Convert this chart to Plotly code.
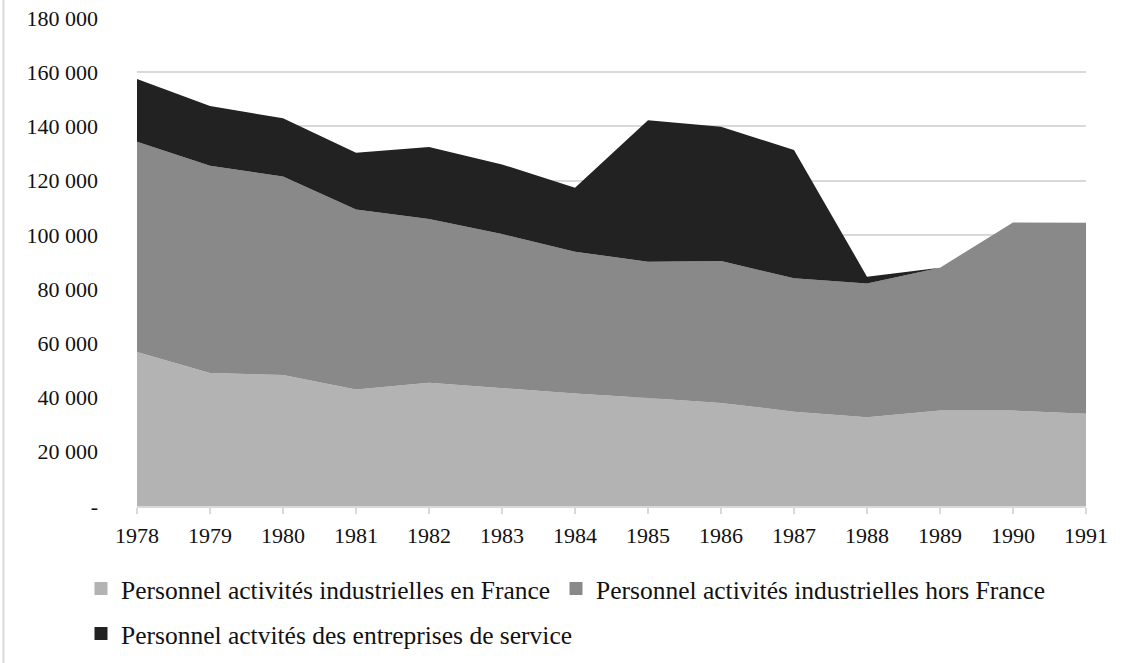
import plotly.graph_objects as go

years = [1978, 1979, 1980, 1981, 1982, 1983, 1984, 1985, 1986, 1987, 1988, 1989, 1990, 1991]
france = [56800, 49100, 48300, 43000, 45500, 43500, 41500, 39800, 38000, 34800, 32700, 35200, 35200, 34000]
hors_france = [77600, 76400, 73200, 66400, 60400, 56800, 52300, 50300, 52400, 49200, 49400, 52700, 69400, 70500]
service = [23100, 22000, 21500, 20900, 26500, 25700, 23600, 52200, 49500, 47300, 2500, 0, 0, 0]

series_names = [
    "Personnel activités industrielles en France",
    "Personnel activités industrielles hors France",
    "Personnel actvités des entreprises de service",
]
series_values = [france, hors_france, service]
colors = ["#b3b3b3", "#898989", "#222222"]
legend_ids = ["legend", "legend2", "legend3"]

y_tickvals = [0, 20000, 40000, 60000, 80000, 100000, 120000, 140000, 160000, 180000]
y_ticktext = ["-", "20 000", "40 000", "60 000", "80 000", "100 000", "120 000", "140 000", "160 000", "180 000"]

FONT = "Liberation Serif"
TXT = "#111111"

fig = go.Figure()
for name, vals, col in zip(series_names, series_values, colors):
    fig.add_trace(go.Scatter(
        x=years, y=vals, name=name, stackgroup="one", mode="lines",
        line=dict(width=0, color=col), fillcolor=col, showlegend=False,
        hoverinfo="x+y+name",
    ))
for name, col, lg in zip(series_names, colors, legend_ids):
    fig.add_trace(go.Scatter(
        x=[None], y=[None], name=name, mode="markers", legend=lg,
        marker=dict(symbol="square", size=13, color=col), showlegend=True,
    ))

legend_common = dict(
    orientation="h", xref="container", yref="container",
    xanchor="left", yanchor="middle", traceorder="normal",
    itemwidth=30, font=dict(family=FONT, size=25.5, color=TXT),
    bgcolor="rgba(0,0,0,0)",
)

fig.update_layout(
    width=1129, height=663,
    margin=dict(l=137, r=43, t=18, b=157, autoexpand=False),
    paper_bgcolor="white", plot_bgcolor="white",
    font=dict(family=FONT, size=22, color=TXT),
    legend=dict(x=81 / 1129, y=1 - 589 / 663, **legend_common),
    legend2=dict(x=556 / 1129, y=1 - 589 / 663, **legend_common),
    legend3=dict(x=81 / 1129, y=1 - 634 / 663, **legend_common),
    xaxis=dict(
        range=[1978, 1991], tickmode="array", tickvals=years,
        ticktext=[str(y) for y in years],
        showgrid=False, showline=True, linecolor="#d9d9d9", linewidth=1.5,
        ticks="outside", ticklen=6, tickcolor="#d9d9d9", tickwidth=1.5,
        zeroline=False, fixedrange=True, ticklabelstandoff=3,
        tickfont=dict(family=FONT, size=22, color=TXT),
    ),
    yaxis=dict(
        range=[0, 180000], tickmode="array", tickvals=y_tickvals, ticktext=y_ticktext,
        showgrid=True, gridcolor="#d9d9d9", gridwidth=1.5,
        showline=False, zeroline=False, ticks="", ticklabelstandoff=38,
        fixedrange=True,
        tickfont=dict(family=FONT, size=22, color=TXT),
    ),
    shapes=[dict(
        type="line", xref="paper", yref="paper",
        x0=(3.5 - 137) / 949, x1=(3.5 - 137) / 949,
        y0=-157 / 488, y1=(663 - 157) / 488 + 18 / 488,
        line=dict(color="#d9d9d9", width=2),
    )],
)

fig.write_html(
    "out.html",
    config={"displayModeBar": False},
    post_script="document.body.style.margin='0';",
)
